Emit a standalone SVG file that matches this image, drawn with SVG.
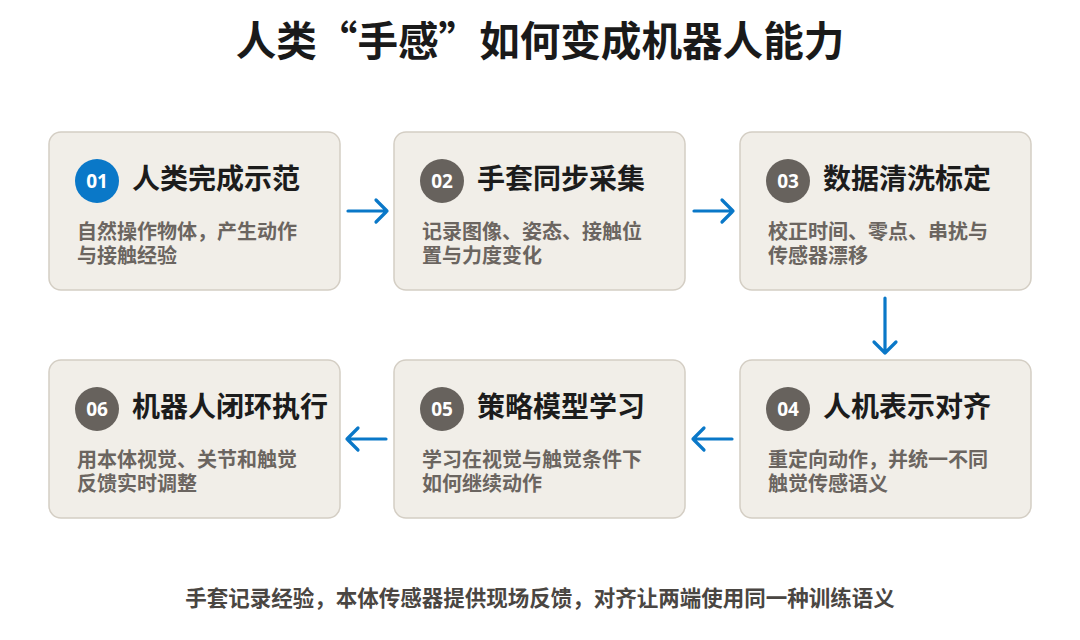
<svg xmlns="http://www.w3.org/2000/svg" width="1080" height="640" viewBox="0 0 1080 640">
<defs>
<style>
.card{fill:#f1eee8;stroke:#d4cec4;stroke-width:1.5}
.t{font-family:"Noto Sans CJK SC","Noto Sans",sans-serif;font-weight:700}
.title{font-size:40.6px;fill:#1a1a1a}
.h{font-size:28px;fill:#1c1c1c}
.d{font-size:20px;fill:#6b6560}
.num{font-family:"Open Sans","Noto Sans",sans-serif;font-weight:700;font-size:19px;fill:#ffffff}
.blue{fill:#0a78c8}
.gray{fill:#67625d}
.foot{font-size:21.5px;fill:#4a4642}
.con{fill:none;stroke:#0a78c8;stroke-width:3.2;stroke-linecap:round;stroke-linejoin:round}
</style>
</defs>
<rect width="1080" height="640" fill="#ffffff"/>
<text class="t title" x="540" y="56" text-anchor="middle">人类“手感”如何变成机器人能力</text>

<g id="node1">
<rect class="card" x="49" y="132" width="291" height="158" rx="12"/>
<circle class="blue" cx="97" cy="181" r="22"/>
<text class="num" x="97" y="188" text-anchor="middle">01</text>
<text class="t h" x="132" y="189">人类完成示范</text>
<text class="t d" x="77" y="239">自然操作物体，产生动作</text>
<text class="t d" x="77" y="263">与接触经验</text>
</g>
<g id="node2">
<rect class="card" x="394" y="132" width="291" height="158" rx="12"/>
<circle class="gray" cx="442" cy="181" r="22"/>
<text class="num" x="442" y="188" text-anchor="middle">02</text>
<text class="t h" x="477" y="189">手套同步采集</text>
<text class="t d" x="422" y="239">记录图像、姿态、接触位</text>
<text class="t d" x="422" y="263">置与力度变化</text>
</g>
<g id="node3">
<rect class="card" x="740" y="132" width="291" height="158" rx="12"/>
<circle class="gray" cx="788" cy="181" r="22"/>
<text class="num" x="788" y="188" text-anchor="middle">03</text>
<text class="t h" x="823" y="189">数据清洗标定</text>
<text class="t d" x="768" y="239">校正时间、零点、串扰与</text>
<text class="t d" x="768" y="263">传感器漂移</text>
</g>
<g id="node4">
<rect class="card" x="740" y="360" width="291" height="158" rx="12"/>
<circle class="gray" cx="788" cy="409" r="22"/>
<text class="num" x="788" y="416" text-anchor="middle">04</text>
<text class="t h" x="823" y="417">人机表示对齐</text>
<text class="t d" x="768" y="467">重定向动作，并统一不同</text>
<text class="t d" x="768" y="491">触觉传感语义</text>
</g>
<g id="node5">
<rect class="card" x="394" y="360" width="291" height="158" rx="12"/>
<circle class="gray" cx="442" cy="409" r="22"/>
<text class="num" x="442" y="416" text-anchor="middle">05</text>
<text class="t h" x="477" y="417">策略模型学习</text>
<text class="t d" x="422" y="467">学习在视觉与触觉条件下</text>
<text class="t d" x="422" y="491">如何继续动作</text>
</g>
<g id="node6">
<rect class="card" x="49" y="360" width="291" height="158" rx="12"/>
<circle class="gray" cx="97" cy="409" r="22"/>
<text class="num" x="97" y="416" text-anchor="middle">06</text>
<text class="t h" x="132" y="417">机器人闭环执行</text>
<text class="t d" x="77" y="467">用本体视觉、关节和触觉</text>
<text class="t d" x="77" y="491">反馈实时调整</text>
</g>

<g id="connectors">
<path class="con" d="M348 211 H387 M376 200 L387 211 L376 222"/>
<path class="con" d="M694 211 H733 M722 200 L733 211 L722 222"/>
<path class="con" d="M885 298 V353 M874 342 L885 353 L896 342"/>
<path class="con" d="M732 439 H693 M704 428 L693 439 L704 450"/>
<path class="con" d="M386 439 H347 M358 428 L347 439 L358 450"/>
</g>

<text class="t foot" x="540" y="606" text-anchor="middle">手套记录经验，本体传感器提供现场反馈，对齐让两端使用同一种训练语义</text>
</svg>
